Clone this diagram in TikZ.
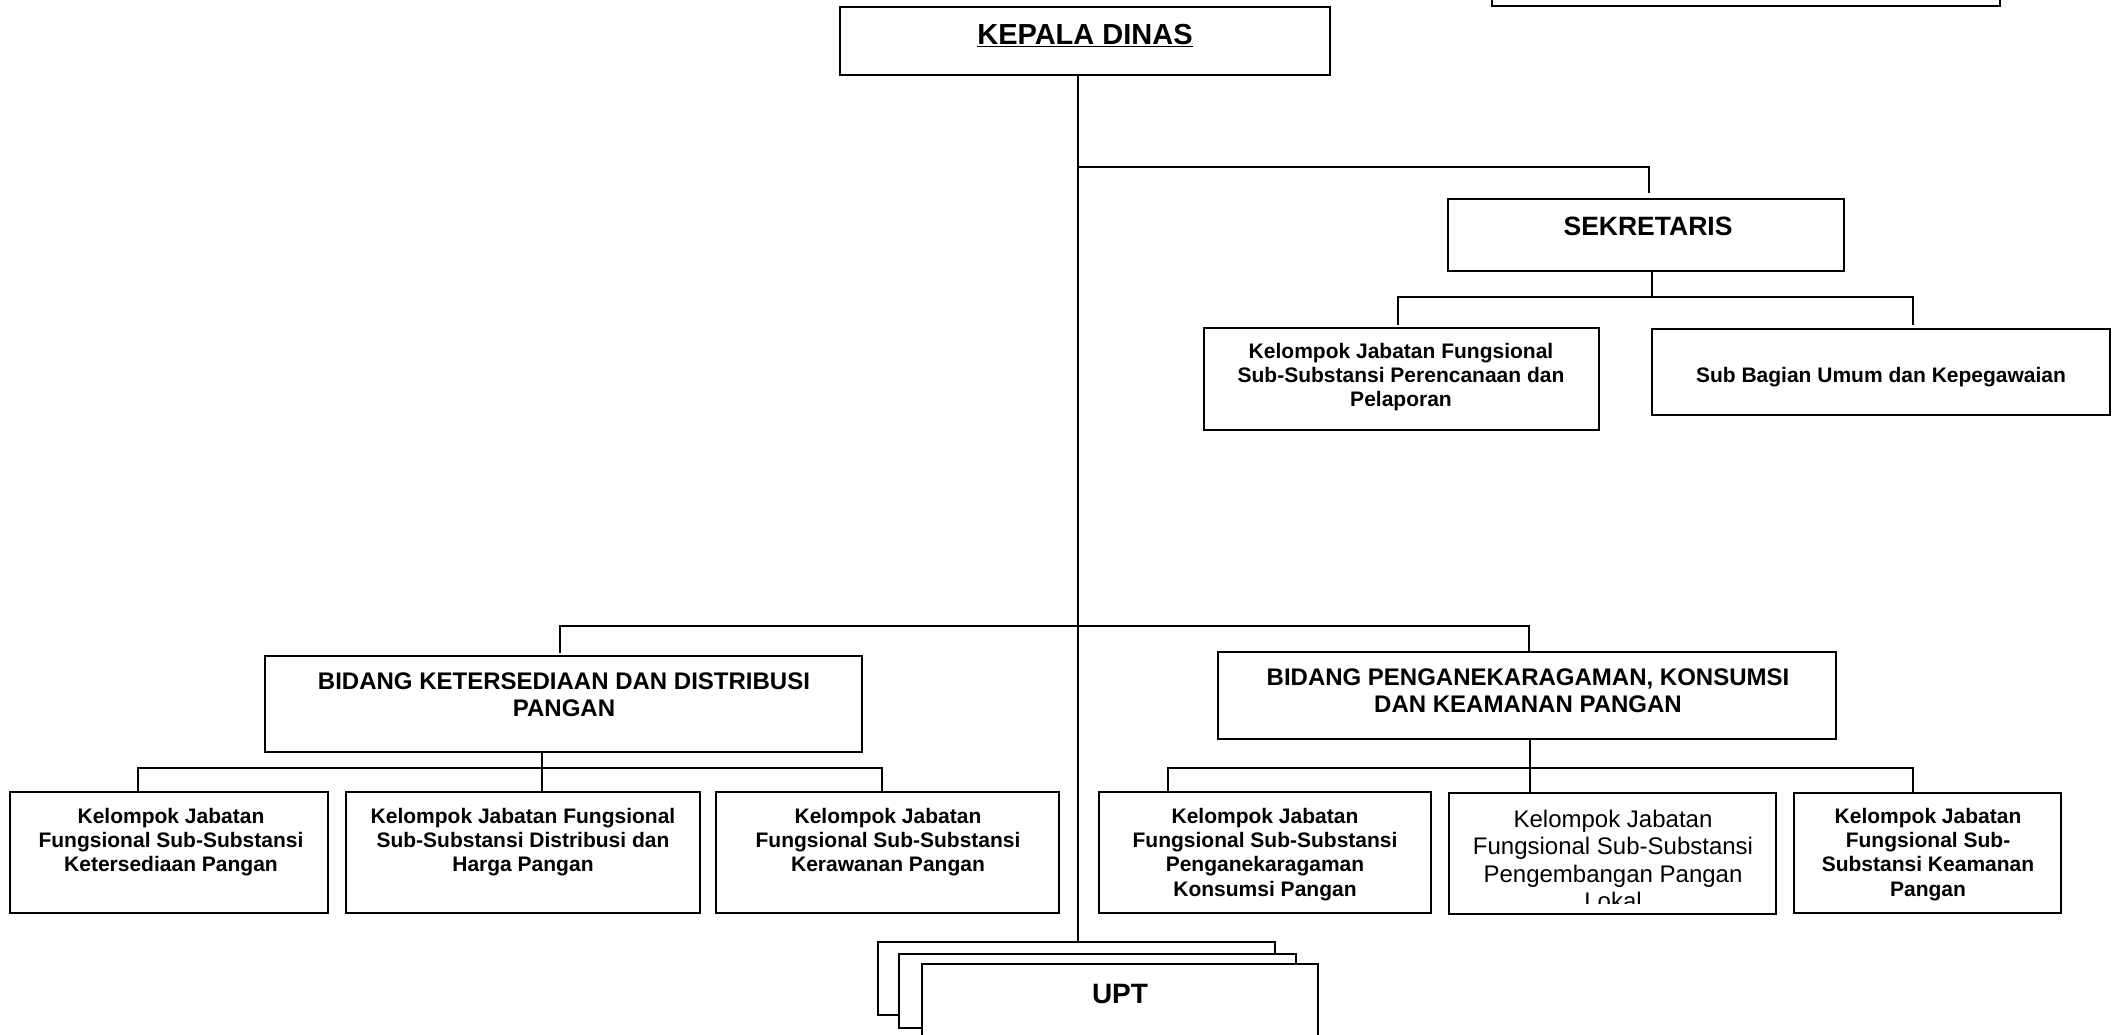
\documentclass[tikz,border=0pt]{standalone}
\usepackage{fontspec}
\setmainfont{Liberation Sans}
\begin{document}
\begin{tikzpicture}[x=1pt,y=-1pt,
  box/.style={draw, line width=2pt, inner sep=0pt, outer sep=0pt, anchor=north west, fill=white},
  conn/.style={line width=1.5pt},
  small/.style={inner sep=0pt, outer sep=0pt, align=center, anchor=north, font=\bfseries\fontsize{21}{24.3}\selectfont},
  head/.style={inner sep=0pt, outer sep=0pt, align=center, anchor=north, font=\bfseries\fontsize{24}{26.8}\selectfont},
  plain/.style={inner sep=0pt, outer sep=0pt, align=center, anchor=north, font=\fontsize{24}{27.5}\selectfont},
  title/.style={inner sep=0pt, outer sep=0pt, anchor=base, font=\bfseries\fontsize{#1}{#1}\selectfont},
]
\clip (0,0) rectangle (2118,1035);
\fill[white] (0,0) rectangle (2118,1035);

% boxes
\node[box, minimum width=508pt, minimum height=40pt] (tr) at (1492,-34) {};
\node[box, minimum width=490pt, minimum height=68pt] (kd) at (840,7) {};
\node[box, minimum width=396pt, minimum height=72pt] (sek) at (1448,199) {};
\node[box, minimum width=395pt, minimum height=102pt] (s1) at (1204,328) {};
\node[box, minimum width=458pt, minimum height=86pt] (s2) at (1652,329) {};
\node[box, minimum width=597pt, minimum height=96pt] (bk) at (265,656) {};
\node[box, minimum width=618pt, minimum height=87pt] (bp) at (1218,652) {};
\node[box, minimum width=318pt, minimum height=121pt] (c1) at (10,792) {};
\node[box, minimum width=354pt, minimum height=121pt] (c2) at (346,792) {};
\node[box, minimum width=343pt, minimum height=121pt] (c3) at (716,792) {};
\node[box, minimum width=332pt, minimum height=121pt] (c4) at (1099,792) {};
\node[box, minimum width=327pt, minimum height=121pt] (c5) at (1449,793) {};
\node[box, minimum width=267pt, minimum height=120pt] (c6) at (1794,793) {};
\node[box, minimum width=397pt, minimum height=73pt] (upt1) at (878,942) {};
\node[box, minimum width=397pt, minimum height=74pt] (upt2) at (899,954) {};
\node[box, minimum width=396pt, minimum height=100pt] (upt3) at (922,964) {};

% connectors
\coordinate (tx) at (1078,0);
\draw[conn] (kd.south -| tx) -- (upt1.north -| tx);
\coordinate (j1) at (1078,167);
\coordinate (sekin) at (1649,193);
\draw[conn] (j1) -| (sekin);

\coordinate (sj) at (1652,297);
\draw[conn] (sek.south -| sj) -- (sj);
\coordinate (sl) at (1398,325);
\coordinate (sr) at (1913,325);
\draw[conn] (sl) -- (sl |- sj) -- (sr |- sj) -- (sr);

\coordinate (mj) at (0,626);
\coordinate (bl) at (560,653);
\coordinate (br) at (1529,653);
\draw[conn] (bl) -- (bl |- mj) -- (br |- mj) -- (br);

\coordinate (kj) at (0,768);
\coordinate (kx) at (542,0);
\draw[conn] (bk.south -| kx) -- (c2.north -| kx);
\coordinate (k1) at (138,793);
\coordinate (k3) at (882,793);
\draw[conn] (k1) -- (k1 |- kj) -- (k3 |- kj) -- (k3);

\coordinate (px) at (1530,0);
\draw[conn] (bp.south -| px) -- (c5.north -| px);
\coordinate (p1) at (1168,793);
\coordinate (p3) at (1913,793);
\draw[conn] (p1) -- (p1 |- kj) -- (p3 |- kj) -- (p3);

% texts
\node[title=29] (kdt) at (1085,45) {\underline{KEPALA DINAS}};
\node[title=26.5] (sekt) at (1648,236) {SEKRETARIS};
\node[small] (s1t) at (1401,343) {Kelompok Jabatan Fungsional\\Sub-Substansi Perencanaan dan\\Pelaporan};
\node[small, anchor=base] (s2t) at (1881,382) {Sub Bagian Umum dan Kepegawaian};
\node[head] (bkt) at (564,673) {BIDANG KETERSEDIAAN DAN DISTRIBUSI\\PANGAN};
\node[head] (bpt) at (1528,669) {BIDANG PENGANEKARAGAMAN, KONSUMSI\\DAN KEAMANAN PANGAN};
\node[small] (c1t) at (171,808) {Kelompok Jabatan\\Fungsional Sub-Substansi\\Ketersediaan Pangan};
\node[small] (c2t) at (523,808) {Kelompok Jabatan Fungsional\\Sub-Substansi Distribusi dan\\Harga Pangan};
\node[small] (c3t) at (888,808) {Kelompok Jabatan\\Fungsional Sub-Substansi\\Kerawanan Pangan};
\node[small] (c4t) at (1265,808) {Kelompok Jabatan\\Fungsional Sub-Substansi\\Penganekaragaman\\Konsumsi Pangan};
\begin{scope}
\clip (1449,793) rectangle (1776,903);
\node[plain] (c5t) at (1613,810) {Kelompok Jabatan\\Fungsional Sub-Substansi\\Pengembangan Pangan\\Lokal};
\end{scope}
\node[small] (c6t) at (1928,808) {Kelompok Jabatan\\Fungsional Sub-\\Substansi Keamanan\\Pangan};
\node[title=28] (uptt) at (1120,1003) {UPT};
\end{tikzpicture}
\end{document}
